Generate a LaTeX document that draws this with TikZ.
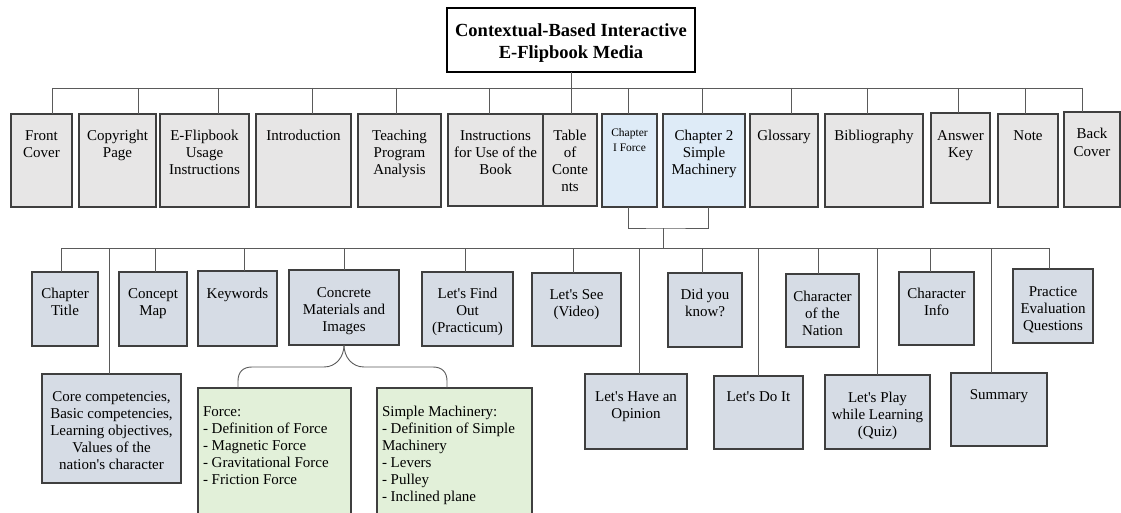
\documentclass[tikz,border=0pt]{standalone}
\usepackage{fontspec}
\setmainfont{Liberation Serif}
\definecolor{topc}{HTML}{E7E6E6}
\definecolor{chc}{HTML}{DEEBF7}
\definecolor{secc}{HTML}{D6DCE5}
\definecolor{grc}{HTML}{E2F0D9}
\definecolor{bordc}{HTML}{3F3F3F}
\definecolor{linec}{HTML}{5A5A5A}
\newcommand\tb[4]{\parbox[c][#2pt][t]{#1pt}{\centering\rule{0pt}{#3pt}#4}}
\newcommand\tbl[4]{\parbox[c][#2pt][t]{#1pt}{\raggedright\leftskip=5pt\rule{0pt}{#3pt}#4}}
\newcommand\apo{\textquotesingle}
\newcommand\dropto[3]{\coordinate (#1-d) at (#2,#3); \draw[conn] (#1-d) -- (#1-d |- #1.north);}
\begin{document}
\begin{tikzpicture}[x=1pt,y=-1pt,
  bx/.style={draw=bordc, line width=1.1pt, inner sep=0pt, outer sep=0pt, anchor=north west},
  topb/.style={bx, fill=topc},
  chb/.style={bx, fill=chc},
  secb/.style={bx, fill=secc},
  grb/.style={bx, fill=grc},
  titleb/.style={bx, fill=white, line width=1.6pt, draw=black, font=\bfseries\fontsize{18.5}{22}\selectfont},
  conn/.style={draw=linec, line width=0.9pt},
  font=\fontsize{15}{17}\selectfont]
\useasboundingbox (0,0) rectangle (1121,513);
\clip (0,0) rectangle (1121,513);
% title
\node[titleb] (title) at (447,8) {\tb{248}{64}{29}{Contextual-Based Interactive\\E-Flipbook Media}};
% top row
\node[topb] (fc) at (11,114) {\tb{61}{93}{27}{Front\\Cover}};
\node[topb] (cp) at (79,114) {\tb{77}{93}{27}{Copyright\\Page}};
\node[topb] (ef) at (160,114) {\tb{89}{93}{27}{E-Flipbook\\Usage\\Instructions}};
\node[topb] (in) at (256,114) {\tb{95}{93}{27}{Introduction}};
\node[topb] (tp) at (358,114) {\tb{83}{93}{27}{Teaching\\Program\\Analysis}};
\node[topb] (ib) at (448,114) {\tb{95}{92}{27}{Instructions\\for Use of the\\Book}};
\node[topb] (toc) at (543,114) {\tb{54}{92}{27}{Table\\of\\Conte\\nts}};
\node[chb] (ch1) at (602,114) {\fontsize{11.5}{14.5}\selectfont\tb{55}{93}{23}{Chapter\\I Force}};
\node[chb] (ch2) at (663,114) {\tb{82}{93}{27}{Chapter 2\\Simple\\Machinery}};
\node[topb] (gl) at (750,114) {\tb{68}{93}{27}{Glossary}};
\node[topb] (bi) at (825,114) {\tb{98}{93}{27}{Bibliography}};
\node[topb] (ak) at (931,113) {\tb{59}{90}{28}{Answer\\Key}};
\node[topb] (no) at (998,114) {\tb{60}{93}{27}{Note}};
\node[topb] (bc) at (1064,112) {\tb{56}{95}{27}{Back\\Cover}};
% second row
\node[secb] (ct) at (32,272) {\tb{66}{74}{26}{Chapter\\Title}};
\node[secb] (cm) at (119,272) {\tb{68}{74}{26}{Concept\\Map}};
\node[secb] (kw) at (198,271) {\tb{79}{75}{27}{Keywords}};
\node[secb] (cmi) at (289,270) {\tb{110}{75}{27}{Concrete\\Materials and\\Images}};
\node[secb] (lf) at (422,272) {\tb{91}{74}{26}{Let\apo s Find\\Out\\(Practicum)}};
\node[secb] (ls) at (532,273) {\tb{89}{73}{26}{Let\apo s See\\(Video)}};
\node[secb] (dk) at (668,273) {\tb{74}{74}{26}{Did you\\know?}};
\node[secb] (cn) at (786,274) {\tb{73}{73}{27}{Character\\of the\\Nation}};
\node[secb] (ci) at (899,272) {\tb{75}{73}{26}{Character\\Info}};
\node[secb] (pe) at (1013,269) {\tb{80}{74}{27}{Practice\\Evaluation\\Questions}};
% third row
\node[secb] (cc) at (42,374) {\tb{139}{109}{27}{Core competencies,\\Basic competencies,\\Learning objectives,\\Values of the\\nation\apo s character}};
\node[secb] (ho) at (585,374) {\tb{102}{75}{27}{Let\apo s Have an\\Opinion}};
\node[secb] (di) at (714,376) {\tb{89}{73}{25}{Let\apo s Do It}};
\node[secb] (pl) at (825,375) {\tb{105}{74}{27}{Let\apo s Play\\while Learning\\(Quiz)}};
\node[secb] (su) at (951,373) {\tb{96}{73}{26}{Summary}};
% green boxes
\node[grb] (gf) at (198,388) {\tbl{153}{130}{28}{Force:\\- Definition of Force\\- Magnetic Force\\- Gravitational Force\\- Friction Force}};
\node[grb] (gs) at (377,388) {\tbl{155}{130}{28}{Simple Machinery:\\- Definition of Simple\\Machinery\\- Levers\\- Pulley\\- Inclined plane}};
% top connectors
\draw[conn] (title.south) -- (title.south |- toc.north);
\dropto{fc}{52}{88}
\dropto{cp}{138}{88}
\dropto{ef}{218}{88}
\dropto{in}{312}{88}
\dropto{tp}{396}{88}
\dropto{ib}{489}{88}
\dropto{ch1}{628}{88}
\dropto{ch2}{702}{88}
\dropto{gl}{791}{88}
\dropto{bi}{867}{88}
\dropto{ak}{958}{88}
\dropto{no}{1025}{88}
\dropto{bc}{1082}{88}
\draw[conn] (fc-d) -- (bc-d);
% chapter bracket
\coordinate (brk) at (663,228);
\draw[conn] ([xshift=-1.5pt]ch1.south) |- (brk) -| ([xshift=4pt]ch2.south);
% lower connectors
\dropto{ct}{61}{248}
\dropto{cc}{109}{248}
\dropto{cm}{155}{248}
\dropto{kw}{244}{248}
\dropto{cmi}{344}{248}
\dropto{lf}{465}{248}
\dropto{ls}{573}{248}
\dropto{ho}{639}{248}
\dropto{dk}{702}{248}
\dropto{di}{758}{248}
\dropto{cn}{818}{248}
\dropto{pl}{877}{248}
\dropto{ci}{930}{248}
\dropto{su}{991}{248}
\dropto{pe}{1049}{248}
\draw[conn] (ct-d) -- (pe-d);
\draw[conn] (brk) -- (brk |- ct-d);
% brace
\draw[conn] (cmi.south) .. controls +(0,12) and +(12,0) .. ++(-20,22) -- ++(-72,0)
  .. controls +(-9,0) and +(0,-9) .. ++(-14,14) -- ([xshift=-36.5pt]gf.north);
\draw[conn] (cmi.south) .. controls +(0,12) and +(-12,0) .. ++(20,22) -- ++(69,0)
  .. controls +(9,0) and +(0,-9) .. ++(14,14) -- ([xshift=-7.5pt]gs.north);
\end{tikzpicture}
\end{document}
